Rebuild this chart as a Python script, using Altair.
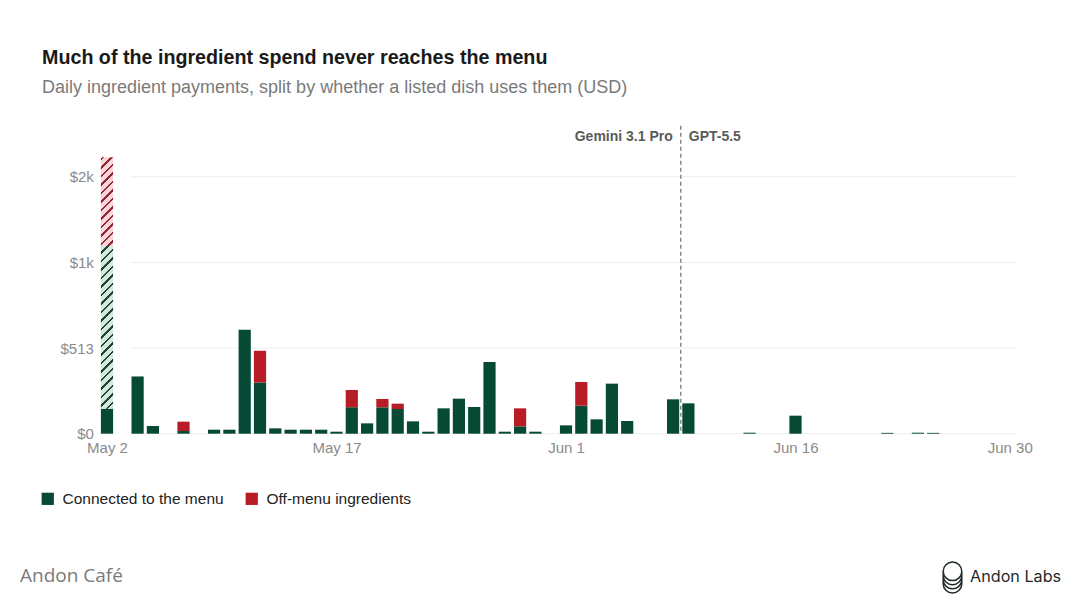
import altair as alt
import numpy as np
import pandas as pd

# ---------------- data ----------------
dates = ["05-02", "05-04", "05-05", "05-07", "05-09", "05-10", "05-11", "05-12",
         "05-13", "05-14", "05-15", "05-16", "05-17", "05-18", "05-19", "05-20",
         "05-21", "05-22", "05-23", "05-24", "05-25", "05-26", "05-27", "05-28",
         "05-29", "05-30", "06-01", "06-02", "06-03", "06-04", "06-05", "06-08",
         "06-09", "06-13", "06-16", "06-22", "06-24", "06-25"]
connected = [150, 343, 46, 16, 24, 24, 618, 307,
             32, 24, 24, 24, 12, 158, 62, 158,
             148, 74, 12, 152, 210, 160, 429, 12,
             44, 12, 50, 168, 86, 300, 76, 206,
             182, 6, 108, 5, 6, 5]
offmenu = [0, 0, 0, 56, 0, 0, 0, 190,
           0, 0, 0, 0, 0, 104, 0, 50,
           32, 0, 0, 0, 0, 0, 0, 0,
           108, 0, 0, 142, 0, 0, 0, 0,
           0, 0, 0, 0, 0, 0]

# first day is shown hatched above its solid part
hatch_kind = ["Connected to the menu", "Off-menu ingredients"]
hatch_lo = [150, 1194]
hatch_hi = [1194, 2226]

series = ["Connected to the menu", "Off-menu ingredients"]
series_colors = ["#064a36", "#b81d26"]

y_ticks = [0, 513, 1000, 2000]
x_ticks = ["05-02", "05-17", "06-01", "06-16", "06-30"]
handover_label_left = "Gemini 3.1 Pro"
handover_label_right = "GPT-5.5"

YEAR = 2026
W, H = 918, 308
# piecewise y scale (equal spacing of 0, $513, $1k, $2k)
Y_DOMAIN = [0, 513, 1000, 2000, 2593]
Y_RANGE = [308, 222.4, 136.9, 51.0, 0]

FONT = "Liberation Sans"

# ---------------- tables ----------------
rows = []
for d, c, o in zip(dates, connected, offmenu):
    rows.append({"date": f"{YEAR}-{d}T00:00:00", "series": series[0], "value": c, "ord": 0})
    rows.append({"date": f"{YEAR}-{d}T00:00:00", "series": series[1], "value": o, "ord": 1})
bars_df = pd.DataFrame(rows)

def dt(md, h=0):
    m, d = md.split("-")
    return alt.DateTime(year=YEAR, month=int(m), date=int(d), hours=h)

def ypix(v):
    return float(np.interp(v, Y_DOMAIN, Y_RANGE))

BAR_W = 12.2

def hatch_gradient(lo, hi, base, stripe, period=8.5, lw=2.3):
    top, bottom = ypix(hi), ypix(lo)
    w, h = BAR_W, bottom - top
    S = w + h
    c = S / (w * w + h * h)
    stops = [alt.GradientStop(offset=0, color=base)]
    s = -(top % period)
    while s < S + period:
        a, b = max(0.0, s - lw / 2), min(S, s + lw / 2)
        if b > a:
            ta, tb = a / S, b / S
            stops += [alt.GradientStop(offset=ta, color=base),
                      alt.GradientStop(offset=ta, color=stripe),
                      alt.GradientStop(offset=tb, color=stripe),
                      alt.GradientStop(offset=tb, color=base)]
        s += period
    stops.append(alt.GradientStop(offset=1, color=base))
    return alt.LinearGradient(gradient="linear", stops=stops,
                              x1=0, y1=0, x2=c * w, y2=c * h)

hatch_styles = [("#d6e8de", "#1a4535"), ("#f9d5d8", "#922432")]

x_scale = alt.Scale(domain=[dt("05-01", 12), dt("06-30", 12)], nice=False, padding=0)
y_scale = alt.Scale(domain=Y_DOMAIN, range=Y_RANGE, zero=False, nice=False)

x_axis = alt.Axis(values=[dt(v) for v in x_ticks], format="%b %-d", title=None,
                  grid=False, domain=False, ticks=False, labelFlush=False,
                  labelOverlap=False, labelPadding=7, labelFontSize=15,
                  labelColor="#8a8a8a", labelFont=FONT)
y_axis = alt.Axis(values=y_ticks, title=None, grid=False, domain=False, ticks=False,
                  labelExpr="datum.value >= 1000 ? '$' + (datum.value/1000) + 'k' : '$' + datum.value",
                  labelPadding=6, labelFontSize=15, labelColor="#8a8a8a", labelFont=FONT)

# gridlines (start right of the first bar)
grid = alt.Chart(pd.DataFrame({"v": y_ticks})).mark_rule(
    color="#eeeeee", strokeWidth=1
).encode(
    y=alt.Y("v:Q", scale=y_scale, axis=y_axis),
    x=alt.datum(dt("05-03", 12)),
    x2=alt.datum(dt("06-30", 12)),
)

bars = alt.Chart(bars_df).mark_bar(width=BAR_W).encode(
    x=alt.X("date:T", scale=x_scale, axis=x_axis),
    y=alt.Y("value:Q", stack="zero", scale=y_scale, axis=y_axis),
    color=alt.Color("series:N", scale=alt.Scale(domain=series, range=series_colors),
                    legend=alt.Legend(title=None, orient="none", legendX=-59.35, legendY=365,
                                      direction="horizontal", symbolType="square",
                                      symbolSize=150, symbolStrokeWidth=0,
                                      labelFontSize=15.5, labelFont=FONT, labelColor="#222222",
                                      labelOffset=7, columnPadding=20, padding=0, labelLimit=400)),
    order=alt.Order("ord:Q"),
)

hatch_layers = []
for i in range(len(hatch_kind)):
    df = pd.DataFrame({"date": [f"{YEAR}-{dates[0]}T00:00:00"], "lo": [hatch_lo[i]],
                       "hi": [hatch_hi[i]], "kind": [hatch_kind[i]]})
    base, stripe = hatch_styles[i]
    hatch_layers.append(
        alt.Chart(df).mark_bar(width=BAR_W, fill=hatch_gradient(hatch_lo[i], hatch_hi[i], base, stripe)).encode(
            x=alt.X("date:T", scale=x_scale),
            y=alt.Y("lo:Q", scale=y_scale),
            y2="hi:Q",
        )
    )

handover = dt("06-08", 12)
rule = alt.Chart(pd.DataFrame({"a": [0]})).mark_rule(
    color="#8a8a8a", strokeDash=[4, 3], strokeWidth=1.5
).encode(x=alt.datum(handover))

ann_l = alt.Chart(pd.DataFrame({"t": [handover_label_left], "yv": [2460]})).mark_text(
    align="right", baseline="middle", dx=-8, font=FONT, fontSize=14,
    fontWeight="bold", color="#5a5a5a"
).encode(x=alt.datum(handover), y=alt.Y("yv:Q", scale=y_scale), text="t:N")
ann_r = alt.Chart(pd.DataFrame({"t": [handover_label_right], "yv": [2460]})).mark_text(
    align="left", baseline="middle", dx=8, font=FONT, fontSize=14,
    fontWeight="bold", color="#5a5a5a"
).encode(x=alt.datum(handover), y=alt.Y("yv:Q", scale=y_scale), text="t:N")

footer_l = alt.Chart(pd.DataFrame({"t": ["Andon Café"]})).mark_text(
    align="left", baseline="middle", font="Open Sans", fontSize=19, color="#7a7a7a"
).encode(x=alt.value(-79.35), y=alt.value(450.5), text="t:N")
footer_r = alt.Chart(pd.DataFrame({"t": ["Andon Labs"]})).mark_text(
    align="left", baseline="middle", font="Inter", fontSize=16.2, color="#1f2a28"
).encode(x=alt.value(870.65), y=alt.value(451.5), text="t:N")

k = 0.5523
def circle_path(cx, cy, r, half=False):
    p = f"M{cx-r},{cy} C{cx-r},{cy+k*r} {cx-k*r},{cy+r} {cx},{cy+r} C{cx+k*r},{cy+r} {cx+r},{cy+k*r} {cx+r},{cy}"
    if not half:
        p += f" C{cx+r},{cy-k*r} {cx+k*r},{cy-r} {cx},{cy-r} C{cx-k*r},{cy-r} {cx-r},{cy-k*r} {cx-r},{cy} Z"
    return p

r = 0.6
logo_path = " ".join([circle_path(0, -0.4, r)] +
                     [circle_path(0, -0.4 + 0.2667 * j, r, half=True) for j in (1, 2, 3)] +
                     [f"M{-r},-0.4 L{-r},0.4", f"M{r},-0.4 L{r},0.4"])
logo = alt.Chart(pd.DataFrame({"a": [0]})).mark_point(
    shape=logo_path, size=961, filled=False, color="#1f2a28", strokeWidth=1.5, opacity=1
).encode(x=alt.value(853.15), y=alt.value(451.8))

chart = alt.layer(grid, bars, *hatch_layers, rule, ann_l, ann_r, footer_l, footer_r, logo).properties(
    width=W, height=H,
    background="white",
    padding={"left": 91.35, "top": 117.7, "right": 54.65, "bottom": 172.3},
    autosize=alt.AutoSizeParams(type="none"),
    title=alt.TitleParams(
        text="Much of the ingredient spend never reaches the menu",
        subtitle="Daily ingredient payments, split by whether a listed dish uses them (USD)",
        anchor="start", frame="group", dx=-57.35, offset=28,
        font=FONT, fontSize=19.7, fontWeight="bold", color="#1a1a1a",
        subtitleFont=FONT, subtitleFontSize=18, subtitleColor="#7a7a7a", subtitlePadding=11,
    ),
).configure_view(strokeWidth=0)

chart.save("out.html", embed_options={"renderer": "svg", "actions": False})
